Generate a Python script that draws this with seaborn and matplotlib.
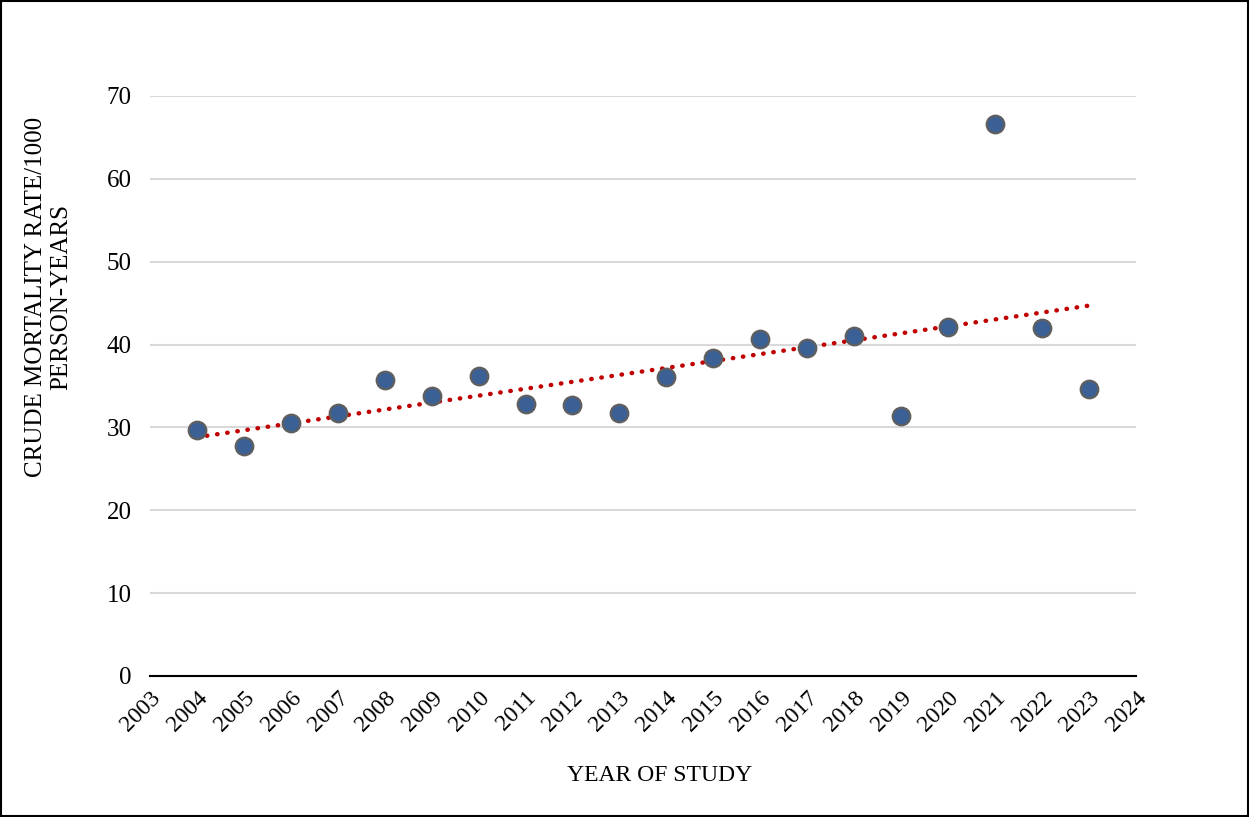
import numpy as np
import pandas as pd
import matplotlib
matplotlib.use("Agg")
import matplotlib.pyplot as plt
import seaborn as sns

years = [2004, 2005, 2006, 2007, 2008, 2009, 2010, 2011, 2012, 2013,
         2014, 2015, 2016, 2017, 2018, 2019, 2020, 2021, 2022, 2023]
mortality = [29.7, 27.8, 30.5, 31.8, 35.7, 33.8, 36.2, 32.8, 32.7, 31.7,
             36.1, 38.4, 40.7, 39.6, 41.0, 31.4, 42.1, 66.6, 42.0, 34.6]
year_ticks = list(range(2003, 2025))
y_ticks = [0, 10, 20, 30, 40, 50, 60, 70]

df = pd.DataFrame({"year": years, "rate": mortality})

sns.set_theme(style="white")
plt.rcParams["font.family"] = ["Liberation Serif", "DejaVu Serif"]
plt.rcParams["text.color"] = "black"
plt.rcParams["axes.labelcolor"] = "black"
plt.rcParams["xtick.color"] = "black"
plt.rcParams["ytick.color"] = "black"

fig = plt.figure(figsize=(12.49, 8.17), dpi=100)
ax = fig.add_axes([0.120, 0.1726, 0.7895, 0.7099])

# linear trend
slope, intercept = np.polyfit(df["year"], df["rate"], 1)
trend_x = np.array([years[0], years[-1]])
ax.plot(trend_x, slope * trend_x + intercept, color="#C00000",
        linestyle=(0, (0.1, 2.2)), linewidth=3.2, dash_capstyle="round",
        zorder=3)

sns.scatterplot(data=df, x="year", y="rate", ax=ax, s=160,
                color="#3A6095", edgecolor="#5F5F5F", linewidth=1.6,
                zorder=4, legend=False)

ax.set_xlim(2003, 2024)
ax.set_ylim(0, 70)
ax.set_xticks(year_ticks)
ax.set_xticklabels([str(y) for y in year_ticks], rotation=45,
                   ha="right", rotation_mode="anchor", fontsize=17)
ax.set_yticks(y_ticks)
ax.set_yticklabels([str(v) for v in y_ticks], fontsize=18)
ax.tick_params(axis="both", length=0)
ax.tick_params(axis="y", pad=13)
ax.tick_params(axis="x", pad=8)

ax.grid(axis="y", color="#D9D9D9", linewidth=1.5)
ax.grid(axis="x", visible=False)
ax.set_axisbelow(True)
for side in ["top", "right", "left"]:
    ax.spines[side].set_visible(False)
ax.spines["bottom"].set_color("black")
ax.spines["bottom"].set_linewidth(1.5)
ax.spines["bottom"].set_zorder(2)

ax.set_xlabel("YEAR OF STUDY", fontsize=17)
ax.xaxis.set_label_coords(0.517, -0.153)
ax.set_ylabel("CRUDE MORTALITY RATE/1000\nPERSON-YEARS", fontsize=18,
              linespacing=1.15)
ax.yaxis.set_label_coords(-0.079, 0.653)

# outer frame
fig.patches.append(plt.Rectangle((0.0008, 0.0012), 0.9984, 0.9976,
                                 transform=fig.transFigure, fill=False,
                                 edgecolor="black", linewidth=1.5))

fig.savefig("out.png", dpi=100, facecolor="white")
